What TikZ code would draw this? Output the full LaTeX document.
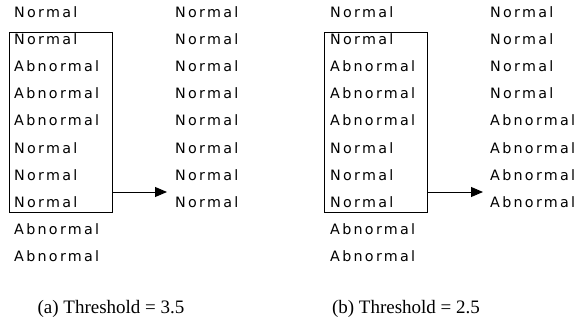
\documentclass[tikz,border=0pt]{standalone}
\usepackage{fontspec}
\setmainfont{Liberation Serif}
\newfontfamily\labfont[LetterSpace=16]{DejaVu Sans}
\usetikzlibrary{arrows.meta}
\tikzset{
  lab/.style={anchor=base west, inner sep=0pt, font=\labfont\fontsize{14.3}{16}\selectfont},
  selbox/.style={draw, line width=0.9pt, anchor=north west, minimum width=103pt, minimum height=180pt, inner sep=0pt},
  flow/.style={line width=0.9pt, -{Triangle[length=12pt,width=10pt]}},
  captext/.style={anchor=base, inner sep=0pt, font=\fontsize{19}{21}\selectfont}
}
\begin{document}
\begin{tikzpicture}[x=1pt,y=-1pt]
\useasboundingbox (0,0) rectangle (579,332);
% panel a
\node[lab] (la1) at (14,17) {Normal};
\node[lab] (la2) at (14,44) {Normal};
\node[lab] (la3) at (14,71) {Abnormal};
\node[lab] (la4) at (14,98) {Abnormal};
\node[lab] (la5) at (14,125) {Abnormal};
\node[lab] (la6) at (14,153) {Normal};
\node[lab] (la7) at (14,180) {Normal};
\node[lab] (la8) at (14,207) {Normal};
\node[lab] (la9) at (14,234) {Abnormal};
\node[lab] (la10) at (14,261) {Abnormal};
\node[selbox] (boxa) at (9,31.7) {};
\node[lab] (ra1) at (175,17) {Normal};
\node[lab] (ra2) at (175,44) {Normal};
\node[lab] (ra3) at (175,71) {Normal};
\node[lab] (ra4) at (175,98) {Normal};
\node[lab] (ra5) at (175,125) {Normal};
\node[lab] (ra6) at (175,153) {Normal};
\node[lab] (ra7) at (175,180) {Normal};
\node[lab] (ra8) at (175,207) {Normal};
\coordinate (ta) at (167,192);
\draw[flow] (boxa.east |- ta) -- (ta);
\node[captext] (capa) at (111,313) {(a) Threshold = 3.5};
% panel b
\node[lab] (lb1) at (330,17) {Normal};
\node[lab] (lb2) at (330,44) {Normal};
\node[lab] (lb3) at (330,71) {Abnormal};
\node[lab] (lb4) at (330,98) {Abnormal};
\node[lab] (lb5) at (330,125) {Abnormal};
\node[lab] (lb6) at (330,153) {Normal};
\node[lab] (lb7) at (330,180) {Normal};
\node[lab] (lb8) at (330,207) {Normal};
\node[lab] (lb9) at (330,234) {Abnormal};
\node[lab] (lb10) at (330,261) {Abnormal};
\node[selbox] (boxb) at (323.5,31.7) {};
\node[lab] (rb1) at (490,17) {Normal};
\node[lab] (rb2) at (490,44) {Normal};
\node[lab] (rb3) at (490,71) {Normal};
\node[lab] (rb4) at (490,98) {Normal};
\node[lab] (rb5) at (490,125) {Abnormal};
\node[lab] (rb6) at (490,153) {Abnormal};
\node[lab] (rb7) at (490,180) {Abnormal};
\node[lab] (rb8) at (490,207) {Abnormal};
\coordinate (tb) at (483,192);
\draw[flow] (boxb.east |- tb) -- (tb);
\node[captext] (capb) at (406,313) {(b) Threshold = 2.5};
\end{tikzpicture}
\end{document}
